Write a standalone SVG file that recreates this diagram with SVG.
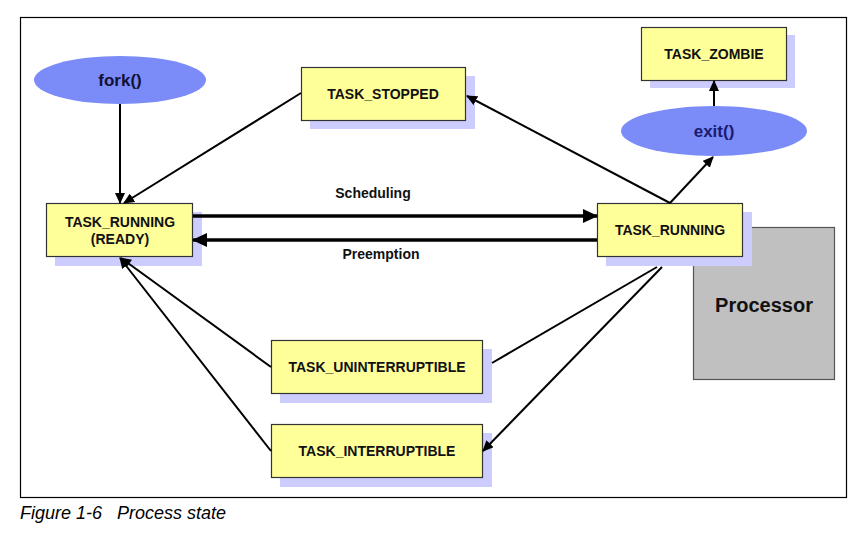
<svg xmlns="http://www.w3.org/2000/svg" width="867" height="543" viewBox="0 0 867 543">
<style>
.shadow{fill:#ccccff}
.box{fill:#ffff99;stroke:#333;stroke-width:1.2}
.ell{fill:#7b8bf7}
.t{font-family:"Liberation Sans",Arial,sans-serif;font-weight:bold;font-size:14px;fill:#111;text-anchor:middle}
.big{font-size:17px}
.ln{stroke:#000;stroke-width:2;fill:none}
.thick{stroke:#000;stroke-width:3.5;fill:none}
</style>
<defs>
<marker id="ah" markerWidth="11" markerHeight="10" refX="10" refY="5" orient="auto" markerUnits="userSpaceOnUse"><path d="M0,0 L11,5 L0,10 z" fill="#000"/></marker>
<marker id="ahb" markerWidth="15" markerHeight="14" refX="14" refY="7" orient="auto" markerUnits="userSpaceOnUse"><path d="M0,0 L15,7 L0,14 z" fill="#000"/></marker>
</defs>
<rect x="0" y="0" width="867" height="543" fill="#fff"/>
<rect x="20.5" y="17.5" width="826" height="480" fill="none" stroke="#000" stroke-width="1.2"/>
<text x="20" y="519" font-family="Liberation Sans,Arial,sans-serif" font-style="italic" font-size="18" fill="#000" xml:space="preserve">Figure 1-6   Process state</text>

<g id="processor">
<rect x="693.5" y="227.5" width="141" height="152" fill="#c0c0c0" stroke="#555" stroke-width="1.2"/>
<text class="t" x="764" y="312" style="font-size:20px">Processor</text>
</g>

<g id="fork">
<ellipse class="ell" cx="120" cy="80" rx="86" ry="24"/>
<text class="t big" x="120" y="86" style="fill:#111133">fork()</text>
</g>

<g id="ready">
<rect class="shadow" x="55" y="212" width="147" height="54"/>
<rect class="box" x="46.5" y="203.5" width="146" height="53"/>
<text class="t" x="120" y="227">TASK_RUNNING</text>
<text class="t" x="120" y="244">(READY)</text>
</g>

<g id="stopped">
<rect class="shadow" x="310" y="76" width="165" height="53"/>
<rect class="box" x="301.5" y="67.5" width="164" height="53"/>
<text class="t" x="383" y="99">TASK_STOPPED</text>
</g>

<g id="zombie">
<rect class="shadow" x="650" y="35" width="145" height="53"/>
<rect class="box" x="641.5" y="27.5" width="145" height="53"/>
<text class="t" x="714" y="59">TASK_ZOMBIE</text>
</g>

<g id="exit">
<ellipse class="ell" cx="714" cy="131" rx="93" ry="25"/>
<text class="t big" x="714" y="137" style="fill:#1a1a6e">exit()</text>
</g>

<g id="running">
<rect class="shadow" x="606" y="212" width="146" height="54"/>
<rect class="box" x="597.5" y="203.5" width="145" height="53"/>
<text class="t" x="670" y="235">TASK_RUNNING</text>
</g>

<g id="uninterruptible">
<rect class="shadow" x="280" y="349" width="212" height="54"/>
<rect class="box" x="271.5" y="340.5" width="211" height="53"/>
<text class="t" x="377" y="372">TASK_UNINTERRUPTIBLE</text>
</g>

<g id="interruptible">
<rect class="shadow" x="280" y="433" width="212" height="54"/>
<rect class="box" x="271.5" y="424.5" width="211" height="53"/>
<text class="t" x="377" y="456">TASK_INTERRUPTIBLE</text>
</g>

<g id="connectors">
<line class="ln" x1="120" y1="104" x2="120" y2="203" marker-end="url(#ah)"/>
<line class="ln" x1="301" y1="93" x2="124" y2="203" marker-end="url(#ah)"/>
<line class="ln" x1="670" y1="203" x2="467" y2="96" marker-end="url(#ah)"/>
<line class="ln" x1="670" y1="203" x2="713" y2="157" marker-end="url(#ah)"/>
<line class="ln" x1="714" y1="106" x2="714" y2="81" marker-end="url(#ah)"/>
<line class="thick" x1="193" y1="216" x2="597" y2="216" marker-end="url(#ahb)"/>
<line class="thick" x1="597" y1="240" x2="193" y2="240" marker-end="url(#ahb)"/>
<line class="ln" x1="271" y1="367" x2="121" y2="258" marker-end="url(#ah)"/>
<line class="ln" x1="271" y1="451" x2="120" y2="258" marker-end="url(#ah)"/>
<line class="ln" x1="657" y1="267" x2="492" y2="363"/>
<line class="ln" x1="662" y1="267" x2="483" y2="451" marker-end="url(#ah)"/>
<text class="t" x="373" y="198">Scheduling</text>
<text class="t" x="381" y="259">Preemption</text>
</g>
</svg>
